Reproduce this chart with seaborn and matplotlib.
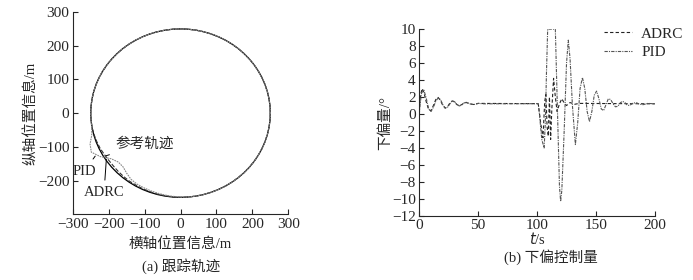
import numpy as np
import pandas as pd
import matplotlib.pyplot as plt
import seaborn as sns

# ---- panel (a): tracking trajectory, radius (m) read per polar angle (deg) ----
ANGLES = list(range(0, 365, 5))
REF_R = [250] * 73
ADRC_R = ([250] * 39
          + [249, 248, 247, 245, 244, 244, 245, 246, 247, 247, 248, 248, 249, 249, 250]
          + [250] * 19)
PID_R = ([250] * 38
         + [251, 256, 268, 274, 258, 236, 226, 226, 233, 240, 243, 244, 245, 246,
            247, 248, 249, 250]
         + [250] * 17)

# ---- panel (b): lower deflection control (deg) vs time (s) ----
PID_T = [0, 1, 2, 4, 6, 8, 10, 12, 14, 16, 18, 20, 22, 24, 26, 28, 30, 32, 34, 36,
         38, 40, 43, 46, 50, 55, 100, 101, 102, 104, 106, 107, 108, 109, 115.5, 117,
         119, 120, 121, 123, 125, 126.5, 128, 130, 132.5, 134.5, 136.5, 138.5, 140.5,
         142.5, 144.5, 146.5, 148.5, 150.5, 152.5, 154.5, 156.5, 158.5, 160.5, 162.5,
         164.5, 166.5, 168.5, 170.5, 172.5, 174.5, 176.5, 178.5, 181, 184, 187, 190,
         194, 200]
PID_V = [0.0, 1.5, 2.5, 2.8, 1.8, 0.6, 0.3, 0.8, 1.5, 1.9, 1.7, 1.1, 0.7, 0.8, 1.2,
         1.55, 1.45, 1.1, 0.95, 1.05, 1.3, 1.38, 1.2, 1.1, 1.25, 1.2, 1.22, 1.2, 0.0,
         -3.0, -4.0, -1.0, 5.0, 10.0, 10.0, 2.0, -8.5, -10.3, -9.0, -2.0, 6.0, 8.7,
         6.5, 1.0, -3.6, -1.0, 3.0, 4.3, 3.0, 0.3, -0.9, 0.3, 2.2, 2.7, 1.8, 0.6, 0.4,
         1.1, 1.8, 1.7, 1.2, 0.85, 0.9, 1.3, 1.5, 1.35, 1.05, 1.0, 1.25, 1.35, 1.15,
         1.1, 1.25, 1.2]

ADRC_T = [0, 1, 2.5, 4, 6, 8, 10, 12, 14, 16, 18, 20, 22, 24, 26, 28, 30, 32, 34,
          36, 38, 40, 43, 46, 50, 100, 101, 103, 105, 106.5, 107.5, 108.5, 109.5,
          110.5, 111.5, 112.5, 114, 115.5, 117, 119, 121, 123, 125, 128, 132, 136, 200]
ADRC_V = [0.5, 2.2, 3.0, 2.5, 1.4, 0.5, 0.4, 1.0, 1.7, 1.95, 1.6, 1.0, 0.7, 0.85,
          1.3, 1.55, 1.4, 1.1, 1.0, 1.1, 1.3, 1.35, 1.2, 1.12, 1.25, 1.22, 1.2, -1.0,
          -2.8, 1.5, 2.3, -1.5, -2.6, 2.0, -3.0, 0.5, 4.2, 2.0, 0.3, 1.2, 1.8, 1.3,
          1.0, 1.35, 1.15, 1.25, 1.2]

sns.set_style("ticks")
plt.rcParams["font.family"] = ["Liberation Serif", "Noto Sans CJK SC", "DejaVu Sans"]
plt.rcParams["font.size"] = 10.5
plt.rcParams["xtick.labelsize"] = 11
plt.rcParams["ytick.labelsize"] = 11
plt.rcParams["xtick.direction"] = "in"
plt.rcParams["ytick.direction"] = "in"
plt.rcParams["xtick.major.pad"] = 2.5
plt.rcParams["ytick.major.pad"] = 2.5
plt.rcParams["axes.linewidth"] = 0.8


def polar_frame(radii, name):
    a = np.deg2rad(ANGLES)
    r = np.asarray(radii, dtype=float)
    return pd.DataFrame({"x": r * np.cos(a), "y": r * np.sin(a), "name": name})


fig = plt.figure(figsize=(6.93, 2.80), dpi=100)
ax1 = fig.add_axes([0.105, 0.235, 0.311, 0.722])
ax2 = fig.add_axes([0.605, 0.229, 0.340, 0.667])

# (a) trajectories - estimator=None keeps the path order, no x-aggregation
traj_kw = dict(x="x", y="y", sort=False, estimator=None, ax=ax1)
sns.lineplot(data=polar_frame(REF_R, "ref"), color="black", lw=0.9, **traj_kw)
sns.lineplot(data=polar_frame(ADRC_R, "ADRC"), color="#333333", lw=0.8, ls="--",
             **traj_kw)
sns.lineplot(data=polar_frame(PID_R, "PID"), color="#888888", lw=0.8,
             ls=(0, (1.5, 0.8)), **traj_kw)
ax1.set_xlim(-300, 300)
ax1.set_ylim(-300, 300)
ax1.set_xticks(range(-300, 301, 100))
ax1.set_yticks(range(-200, 301, 100))
ax1.set_xlabel("横轴位置信息/m", labelpad=5)
ax1.set_ylabel("纵轴位置信息/m", labelpad=0)
sns.despine(ax=ax1)
line_kw = dict(arrowprops=dict(arrowstyle="-", color="black", lw=0.7),
               ha="center", va="center")
ax1.annotate("参考轨迹", xy=(-215, -129), xytext=(-100, -92), **line_kw)
ax1.annotate("PID", xy=(-233, -121), xytext=(-268, -172), **line_kw)
ax1.annotate("ADRC", xy=(-206, -129), xytext=(-213, -236), **line_kw)
fig.text(0.262, 0.05, "(a) 跟踪轨迹", ha="center", va="center")

# (b) control signal
sns.lineplot(x=ADRC_T, y=ADRC_V, ax=ax2, color="#222222", lw=0.8,
             ls=(0, (3, 2)), label="ADRC", estimator=None)
sns.lineplot(x=PID_T, y=PID_V, ax=ax2, color="#555555", lw=0.8,
             ls=(0, (3, 1, 1, 1)), label="PID", estimator=None)
ax2.set_xlim(0, 200)
ax2.set_ylim(-12, 10)
ax2.set_xticks(range(0, 201, 50))
ax2.set_yticks(range(-12, 11, 2))
ax2.set_xlabel("$t$/s", labelpad=-1)
ax2.set_ylabel("下偏量/°", labelpad=0)
sns.despine(ax=ax2)
ax2.legend(loc="upper right", bbox_to_anchor=(0.995, 0.925),
           bbox_transform=fig.transFigure, frameon=False, handlelength=1.8,
           handletextpad=0.6, borderaxespad=0, labelspacing=0.3, fontsize=11)
fig.text(0.795, 0.08, "(b) 下偏控制量", ha="center", va="center")

fig.savefig("out.png", dpi=100)
